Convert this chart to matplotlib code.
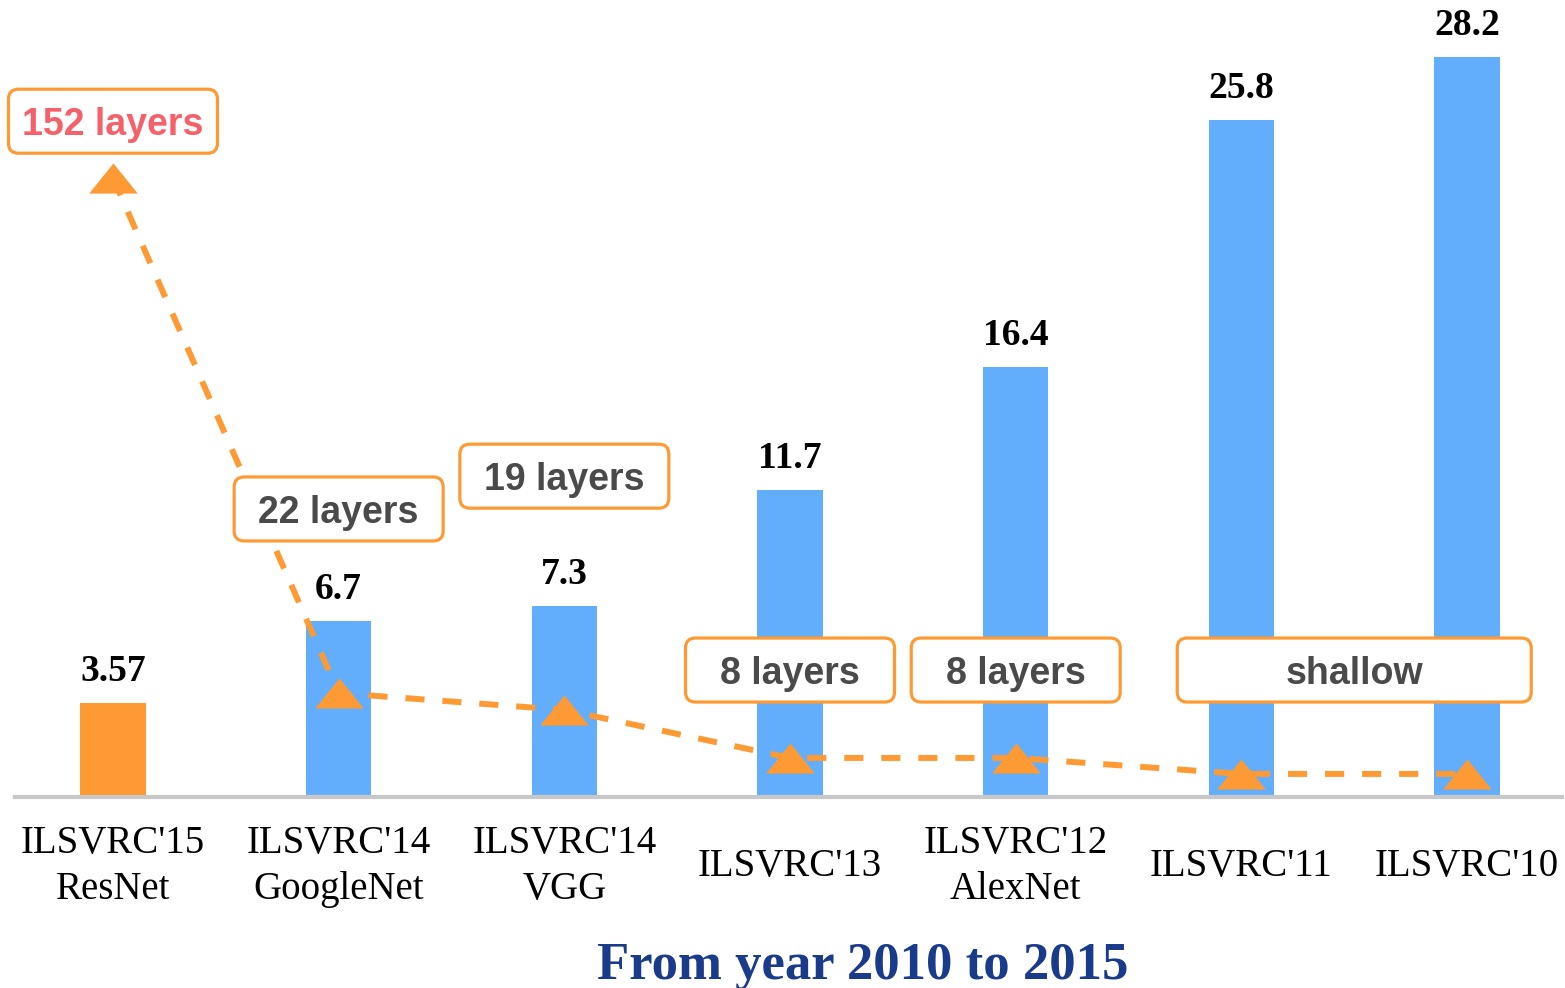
import matplotlib.pyplot as plt
from matplotlib.patches import FancyBboxPatch
from matplotlib.transforms import ScaledTranslation

# top-5 error (%) per ILSVRC winner, newest first
labels = ["ILSVRC'15\nResNet", "ILSVRC'14\nGoogleNet", "ILSVRC'14\nVGG", "ILSVRC'13",
          "ILSVRC'12\nAlexNet", "ILSVRC'11", "ILSVRC'10"]
errors = [3.57, 6.7, 7.3, 11.7, 16.4, 25.8, 28.2]
# height of the depth-trend markers
depth_line = [23.6, 3.96, 3.32, 1.49, 1.49, 0.88, 0.88]
# depth tags: (text, x center, y center, box width in inches)
depth_tags = [("152 layers", 0.0, 25.76, 2.09),
              ("22 layers", 1.0, 10.98, 2.09),
              ("19 layers", 2.0, 12.23, 2.09),
              ("8 layers", 3.0, 4.84, 2.09),
              ("8 layers", 4.0, 4.84, 2.09),
              ("shallow", 5.5, 4.84, 3.54)]

BLUE = '#63aefc'
ORANGE = '#fd9a33'

fig = plt.figure(figsize=(15.65, 9.88), dpi=100)
ax = fig.add_axes([0.0096, 0.1933, 0.9884, 0.7966])

x = list(range(len(errors)))
colors = [ORANGE] + [BLUE] * (len(errors) - 1)
ax.bar(x, errors, width=0.29, color=colors, zorder=2)

for xi, e in zip(x, errors):
    ax.annotate(f"{e:g}", (xi, e), xytext=(0, 10), textcoords='offset points',
                ha='center', va='bottom', fontsize=27, fontweight='bold',
                family='Liberation Serif', color='black')

tri = [(-1, -0.62), (1, -0.62), (0, 0.62)]
ax.plot(x, depth_line, color=ORANGE, lw=4.3, linestyle=(0, (3.2, 3.0)),
        marker=tri, markersize=35, markeredgewidth=0, zorder=3)

for text, xc, yc, w in depth_tags:
    tr = fig.dpi_scale_trans + ScaledTranslation(xc, yc, ax.transData)
    box = FancyBboxPatch((-w / 2, -0.32), w, 0.64,
                         boxstyle="round,pad=0,rounding_size=0.1",
                         transform=tr, facecolor='white', edgecolor=ORANGE,
                         lw=2.3, zorder=4, clip_on=False)
    ax.add_patch(box)
    tcol = '#f5606a' if text == "152 layers" else '#4a4a4a'
    ax.text(xc, yc, text, ha='center', va='center_baseline', fontsize=27,
            fontweight='bold', family='Liberation Sans', color=tcol, zorder=5)

ax.set_xlim(-0.434, 6.42)
ax.set_ylim(0, 30)
ax.set_yticks([])
ax.set_xticks(x)
ax.set_xticklabels(labels, fontsize=28, family='Liberation Serif',
                   linespacing=1.3, va='center')
ax.tick_params(axis='x', length=0, pad=50)
for s in ['top', 'left', 'right']:
    ax.spines[s].set_visible(False)
ax.spines['bottom'].set_color('#c8c8c8')
ax.spines['bottom'].set_linewidth(3)

fig.text(0.551, 0.009, "From year 2010 to 2015", ha='center', va='baseline',
         fontsize=38, fontweight='bold', family='Liberation Serif', color='#1a3a8a')

fig.savefig('out.png', dpi=100)
